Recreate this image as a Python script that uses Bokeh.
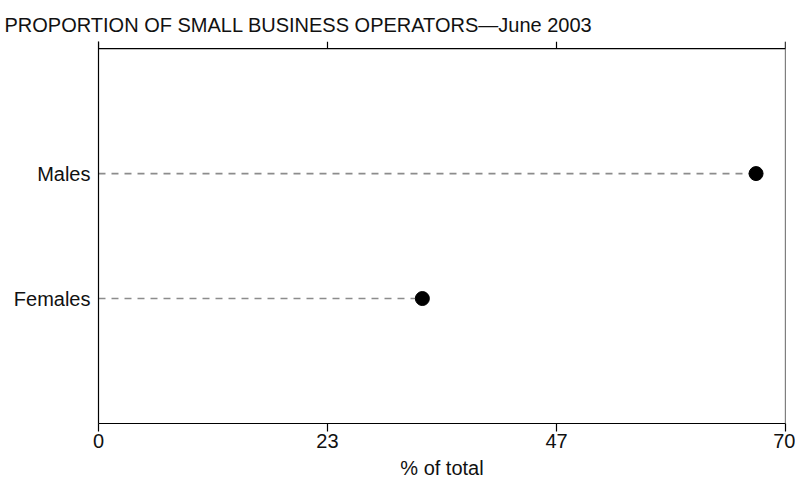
from bokeh.plotting import figure
from bokeh.models import Range1d, FixedTicker, Span
from bokeh.embed import file_html
from bokeh.resources import INLINE

# Data
categories = ["Females", "Males"]
category_pos = [1, 2]
values = [33, 67]
x_tick_pos = [0, 23.333, 46.667, 70]
x_tick_labels = ["0", "23", "47", "70"]
title_text = "PROPORTION OF SMALL BUSINESS OPERATORS\u2014June 2003"
x_label = "% of total"

X_MIN, X_MAX = 0, 70
Y_MIN, Y_TOP_LINE = 0, 3
Y_MAX = 3.057  # leaves room for the outward top ticks

FONT = "Liberation Sans"
TXT = "#111111"

p = figure(width=795, height=481, output_backend="svg", toolbar_location=None,
           x_range=Range1d(X_MIN, X_MAX), y_range=Range1d(Y_MIN, Y_MAX),
           min_border_left=98, min_border_right=10, min_border_top=41, min_border_bottom=0)

p.title.text = title_text
p.title.text_font = FONT
p.title.text_font_size = "20px"
p.title.text_font_style = "normal"
p.title.text_color = TXT
p.title.align = "left"
p.title.offset = -94
p.title.standoff = 12

p.xgrid.visible = False
p.ygrid.visible = False
p.outline_line_color = None
p.background_fill_color = "white"
p.border_fill_color = "white"

# bottom axis
xa = p.xaxis[0]
xa.ticker = FixedTicker(ticks=x_tick_pos)
xa.major_label_overrides = {t: l for t, l in zip(x_tick_pos, x_tick_labels)}
xa.axis_label = x_label
xa.axis_label_text_font = FONT
xa.axis_label_text_font_size = "20px"
xa.axis_label_text_font_style = "normal"
xa.axis_label_text_color = TXT
xa.axis_label_standoff = 6
xa.major_label_text_font = FONT
xa.major_label_text_font_size = "20px"
xa.major_label_text_color = TXT
xa.major_label_standoff = 2
xa.major_tick_out = 8
xa.major_tick_in = 0
xa.minor_tick_line_color = None
xa.axis_line_color = "black"
xa.axis_line_width = 1.2
xa.major_tick_line_color = "black"
xa.major_tick_line_width = 1.2

# left axis
ya = p.yaxis[0]
ya.ticker = FixedTicker(ticks=category_pos)
ya.major_label_overrides = {pos: c for pos, c in zip(category_pos, categories)}
ya.major_label_text_font = FONT
ya.major_label_text_font_size = "20px"
ya.major_label_text_color = TXT
ya.major_label_standoff = 8
ya.major_tick_out = 0
ya.major_tick_in = 0
ya.minor_tick_line_color = None
ya.major_tick_line_color = None
ya.axis_line_color = "black"
ya.axis_line_width = 1.2

# top line with outward ticks, and right line
p.add_layout(Span(location=Y_TOP_LINE, dimension="width", line_color="black", line_width=1.2))
p.add_layout(Span(location=X_MAX, dimension="height", line_color="black", line_width=1.2))
p.segment(x0=x_tick_pos, y0=[Y_TOP_LINE] * len(x_tick_pos), x1=x_tick_pos, y1=[Y_MAX] * len(x_tick_pos),
          line_color="black", line_width=1.2)

# dashed leader lines and dots
p.segment(x0=[X_MIN] * len(values), y0=category_pos, x1=values, y1=category_pos,
          line_color="#8c8c8c", line_width=1.6, line_dash="7 6")
p.scatter(x=values, y=category_pos, size=14, fill_color="black", line_color="black")

open("out.html", "w").write(file_html(p, INLINE))
